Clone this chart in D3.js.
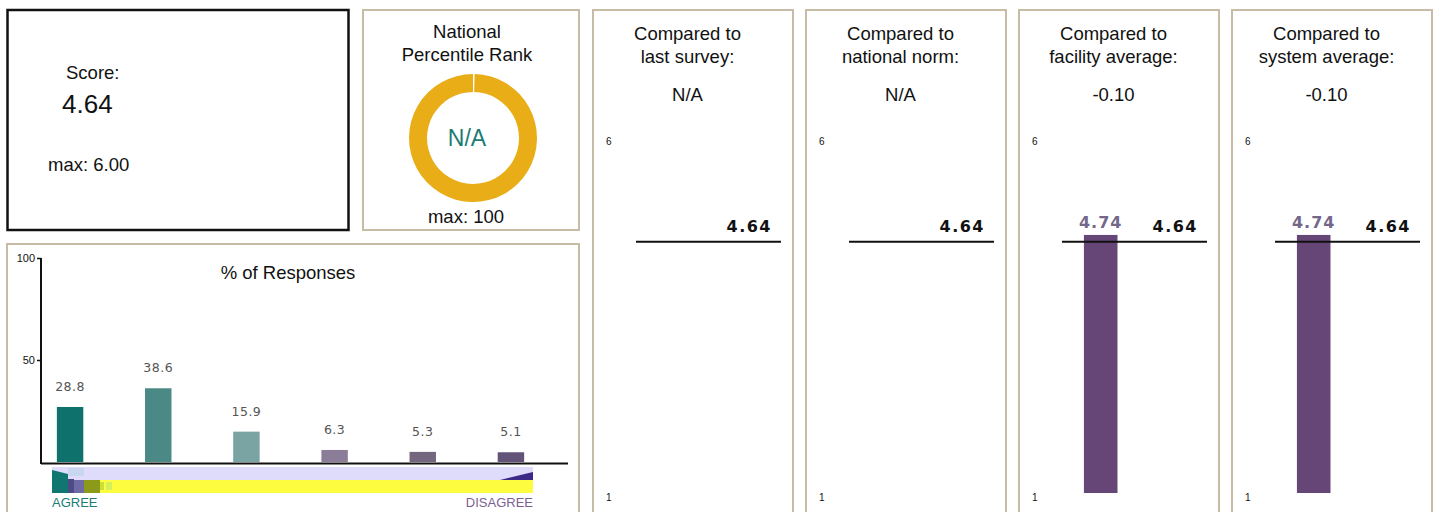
<!DOCTYPE html>
<html>
<head>
<meta charset="utf-8">
<script src="https://cdn.jsdelivr.net/npm/d3@7"></script>
<style>
  html, body { margin: 0; padding: 0; background: #fff; overflow: hidden; }
  svg { display: block; font-family: "Liberation Sans", Arial, sans-serif; }
</style>
</head>
<body>
<svg id="chart" width="1439" height="512"></svg>
<script>
// ---------------- DATA ----------------
const score = 4.64;
const scoreMax = "6.00";
const percentileText = "N/A";
const percentileMax = 100;

const responseCategories = ["Strongly agree", "Agree", "Slightly agree", "Slightly disagree", "Disagree", "Strongly disagree"];
const responseValues = [28.8, 38.6, 15.9, 6.3, 5.3, 5.1];
const responseColors = ["#0f716c", "#4b8986", "#7aa4a4", "#8b7d98", "#756680", "#645379"];
const responseTicks = [50, 100];

const compareTitles1 = ["Compared to", "Compared to", "Compared to", "Compared to"];
const compareTitles2 = ["last survey:", "national norm:", "facility average:", "system average:"];
const compareDiffs = ["N/A", "N/A", "-0.10", "-0.10"];
const compareValues = [null, null, 4.74, 4.74];
const compareTicks = [6, 1];

// ---------------- SETUP ----------------
const svg = d3.select("#chart");
const tan = "#c7bca5";
const font = "'Liberation Sans', Arial, sans-serif";
const vfont = "'DejaVu Sans', Verdana, sans-serif";
const FS = 18.5;

// ---------- Score box ----------
const sb = svg.append("g");
sb.append("rect").attr("x", 7.5).attr("y", 10).attr("width", 341).attr("height", 220)
  .attr("fill", "#fff").attr("stroke", "#111").attr("stroke-width", 2.5);
sb.append("text").attr("x", 66).attr("y", 79).attr("font-size", FS).attr("fill", "#111").text("Score:");
sb.append("text").attr("x", 62).attr("y", 113).attr("font-size", 26).attr("fill", "#111").text(score.toFixed(2));
sb.append("text").attr("x", 48).attr("y", 171).attr("font-size", FS).attr("fill", "#111").text("max: " + scoreMax);

// ---------- Percentile box ----------
const pb = svg.append("g");
pb.append("rect").attr("x", 363).attr("y", 10).attr("width", 216).attr("height", 220)
  .attr("fill", "#fff").attr("stroke", tan).attr("stroke-width", 2);
pb.append("text").attr("x", 467).attr("y", 38).attr("text-anchor", "middle").attr("font-size", FS).attr("fill", "#111").text("National");
pb.append("text").attr("x", 467).attr("y", 61).attr("text-anchor", "middle").attr("font-size", FS).attr("fill", "#111").text("Percentile Rank");
const arc = d3.arc().innerRadius(46).outerRadius(64);
const pie = d3.pie().sort(null).startAngle(0.0).endAngle(2 * Math.PI);
pb.append("g").attr("transform", "translate(473,138)")
  .selectAll("path").data(pie([percentileMax])).join("path")
  .attr("d", d => arc({startAngle: d.startAngle + 0.025, endAngle: d.endAngle}))
  .attr("fill", "#e9ad17");
pb.append("text").attr("x", 467).attr("y", 146).attr("text-anchor", "middle").attr("font-size", 23).attr("fill", "#1b7c76").text(percentileText);
pb.append("text").attr("x", 466).attr("y", 223).attr("text-anchor", "middle").attr("font-size", FS).attr("fill", "#111").text("max: " + percentileMax);

// ---------- Responses box ----------
const rb = svg.append("g");
rb.append("rect").attr("x", 7).attr("y", 244).attr("width", 572).attr("height", 300)
  .attr("fill", "#fff").attr("stroke", tan).attr("stroke-width", 2);

const ry = d3.scaleLinear().domain([0, 100]).range([462, 258]);      // axis scale
const barY = d3.scaleLinear().domain([0, 100]).range([462, 271]);    // bar image scale
const rx = d3.scaleBand().domain(responseCategories).range([26, 555]).paddingInner(0.7).paddingOuter(0.35);

rb.append("text").attr("x", 288).attr("y", 279).attr("text-anchor", "middle").attr("font-size", FS).attr("fill", "#111").text("% of Responses");

rb.selectAll("rect.bar").data(responseValues).join("rect").attr("class", "bar")
  .attr("x", (d, i) => rx(responseCategories[i]))
  .attr("y", d => barY(d))
  .attr("width", rx.bandwidth())
  .attr("height", d => barY(0) - barY(d))
  .attr("fill", (d, i) => responseColors[i]);

rb.selectAll("text.val").data(responseValues).join("text").attr("class", "val")
  .attr("x", (d, i) => rx(responseCategories[i]) + rx.bandwidth() / 2)
  .attr("y", d => barY(d) - 16)
  .attr("text-anchor", "middle").attr("font-family", vfont).attr("font-size", 12.5)
  .attr("letter-spacing", 0.5).attr("fill", "#555").text(d => d.toFixed(1));

const yAxis = d3.axisLeft(ry).tickValues(responseTicks).tickSize(4).tickPadding(2);
const yg = rb.append("g").attr("transform", "translate(41,0)").call(yAxis);
yg.select(".domain").attr("stroke", "#111").attr("stroke-width", 2).attr("d", `M0,${ry(100)}V${ry(0) + 2}`);
yg.selectAll(".tick line").attr("stroke", "#111").attr("stroke-width", 1.5);
yg.selectAll(".tick text").attr("font-family", font).attr("font-size", 11).attr("fill", "#111");

rb.append("line").attr("x1", 41).attr("x2", 568).attr("y1", ry(0) + 1.5).attr("y2", ry(0) + 1.5)
  .attr("stroke", "#111").attr("stroke-width", 2);

// agree/disagree strip
const st = rb.append("g");
st.append("rect").attr("x", 52).attr("y", 467).attr("width", 481).attr("height", 13).attr("fill", "#dedcfa");
st.append("rect").attr("x", 52).attr("y", 480).attr("width", 481).attr("height", 13).attr("fill", "#fdfc3e");
st.append("path").attr("d", "M52,470 L68,474 L68,493 L52,493 Z").attr("fill", "#0f7670");
st.append("rect").attr("x", 68).attr("y", 479).attr("width", 6).attr("height", 14).attr("fill", "#4d4a86");
st.append("rect").attr("x", 74).attr("y", 480).attr("width", 10).attr("height", 13).attr("fill", "#6e6aa8");
st.append("rect").attr("x", 84).attr("y", 480).attr("width", 16).attr("height", 13).attr("fill", "#8c9a1a");
st.append("rect").attr("x", 100).attr("y", 482).attr("width", 4).attr("height", 8).attr("fill", "#c8e03a");
st.append("rect").attr("x", 106).attr("y", 482).attr("width", 6).attr("height", 8).attr("fill", "#d4f05a");
st.append("rect").attr("x", 68).attr("y", 468).attr("width", 16).attr("height", 8).attr("fill", "#c9d6f0");
st.append("path").attr("d", "M500,480 L533,472 L533,480 Z").attr("fill", "#3d2a86");
st.append("text").attr("x", 52).attr("y", 507).attr("font-size", 13).attr("fill", "#1b7c76").text("AGREE");
st.append("text").attr("x", 533).attr("y", 507).attr("text-anchor", "end").attr("font-size", 13).attr("fill", "#7c5f92").text("DISAGREE");

// ---------- Comparison panels ----------
const panelX = d3.scaleBand().domain(d3.range(compareTitles1.length)).range([593, 1445]).paddingInner(0);
const cy = d3.scaleLinear().domain([1, 6]).range([493, 148]);
const bx = d3.scaleBand().domain(["comparison", "score"]).range([50, 188]).paddingInner(0.55).paddingOuter(0.2);

compareTitles1.forEach((t, i) => {
  const x0 = panelX(i);
  const g = svg.append("g").attr("transform", `translate(${x0},0)`);
  g.append("rect").attr("x", 0).attr("y", 10).attr("width", 200).attr("height", 540)
    .attr("fill", "#fff").attr("stroke", tan).attr("stroke-width", 2);
  g.append("text").attr("x", 94.5).attr("y", 40).attr("text-anchor", "middle").attr("font-size", FS).attr("fill", "#111").text(t);
  g.append("text").attr("x", 94.5).attr("y", 63).attr("text-anchor", "middle").attr("font-size", FS).attr("fill", "#111").text(compareTitles2[i]);
  g.append("text").attr("x", 94.5).attr("y", 101).attr("text-anchor", "middle").attr("font-size", FS).attr("fill", "#111").text(compareDiffs[i]);

  g.selectAll("text.tk").data(compareTicks).join("text").attr("class", "tk")
    .attr("x", 13).attr("y", d => cy(d) + (d === 6 ? -3 : 8))
    .attr("font-size", 10).attr("fill", "#111").text(d => d);

  const v = compareValues[i];
  if (v !== null) {
    g.append("rect").attr("x", bx("comparison")).attr("y", cy(v)).attr("width", bx.bandwidth())
      .attr("height", cy(1) - cy(v)).attr("fill", "#654677");
    g.append("text").attr("x", bx("comparison") + bx.bandwidth() / 2).attr("y", cy(v) - 7)
      .attr("text-anchor", "middle").attr("font-family", vfont).attr("font-weight", "bold")
      .attr("font-size", 16).attr("letter-spacing", 1).attr("fill", "#74688a").text(v.toFixed(2));
  }
  g.append("line").attr("x1", 43).attr("x2", 188).attr("y1", cy(score)).attr("y2", cy(score))
    .attr("stroke", "#111").attr("stroke-width", 2);
  g.append("text").attr("x", 179).attr("y", cy(score) - 10)
    .attr("text-anchor", "end").attr("font-family", vfont).attr("font-weight", "bold")
    .attr("font-size", 16).attr("letter-spacing", 1.5).attr("fill", "#111").text(score.toFixed(2));
});
</script>
</body>
</html>
